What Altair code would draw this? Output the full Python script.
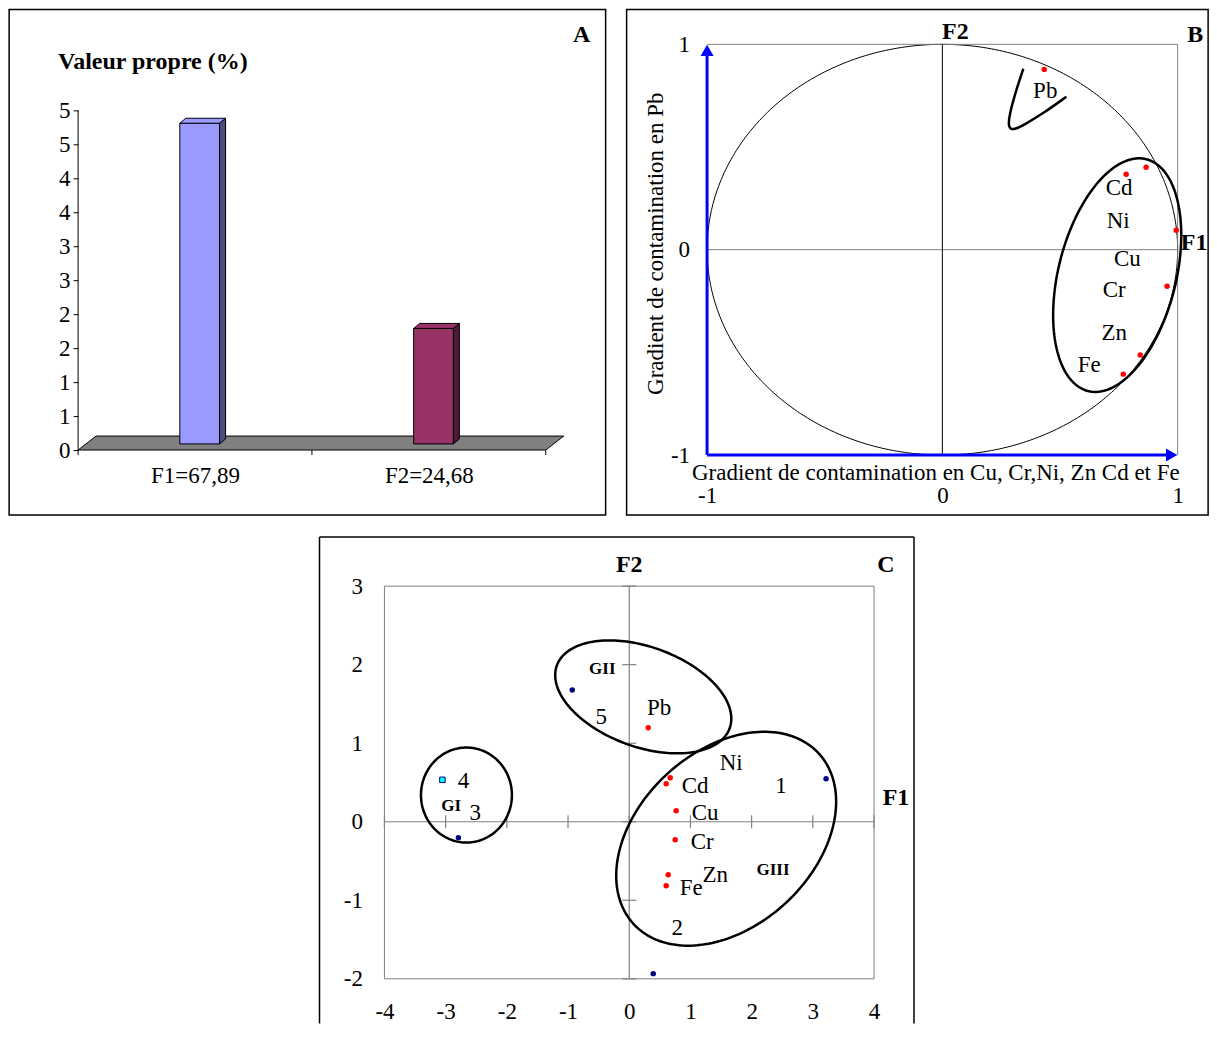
import math
import altair as alt
import pandas as pd

FONT = "Liberation Serif"
GRAY = "#808080"
NAVY = "#000080"
RED = "#FF0000"
FS = 23      # normal text size
FSB = 24     # bold panel letters / axis names

# ---------------- Panel A : eigenvalues ----------------
factor_labels = ["F1=67,89", "F2=24,68"]
eigenvalues = [4.75, 1.73]
front_colors = ["#9999FF", "#993366"]
side_colors = ["#4D4D80", "#4D1A33"]
a_ticks = [0, 0.5, 1, 1.5, 2, 2.5, 3, 3.5, 4, 4.5, 5]
a_title = "Valeur propre (%)"

# ---------------- Panel B : correlation circle ----------------
var_names = ["Pb", "Cd", "Ni", "Cu", "Cr", "Zn", "Fe"]
b_f1 = [0.433, 0.781, 0.866, 0.994, 0.955, 0.841, 0.769]
b_f2 = [0.878, 0.367, 0.401, 0.095, -0.178, -0.513, -0.606]
b_lbl_dx = [1, -7, -28, -49, -53, -26, -34]
b_lbl_dy = [22, 14, 54, 29, 4, -22, -9]
pb_curve_x = [0.344, 0.310, 0.284, 0.280, 0.297, 0.348, 0.433, 0.527]
pb_curve_y = [0.881, 0.764, 0.652, 0.599, 0.579, 0.608, 0.667, 0.745]
b_ell = dict(cx=0.743, cy=-0.124, a=0.508, b=0.250, rot=75.9)
b_xtitle = "Gradient de contamination en Cu, Cr,Ni, Zn Cd et Fe"
b_ytitle = "Gradient de contamination en Pb"

# ---------------- Panel C : biplot ----------------
c_var_f1 = [0.310, 0.604, 0.669, 0.767, 0.751, 0.637, 0.604]
c_var_f2 = [1.196, 0.483, 0.560, 0.140, -0.229, -0.674, -0.814]
c_var_dx = [11, 29, 61, 29, 27, 47, 25]
c_var_dy = [-20, 2, -15, 2, 2, 0, 2]
sites = ["1", "2", "3", "4", "5"]
site_f1 = [3.216, 0.392, -2.792, -3.053, -0.931]
site_f2 = [0.547, -1.934, -0.204, 0.534, 1.679]
site_dx = [-45, 24, 17, 21, 29]
site_dy = [7, -46, -25, 1, 27]
groups = ["GI", "GII", "GIII"]
group_x = [-2.91, -0.44, 2.35]
group_y = [0.20, 1.95, -0.62]
ell_cx = [-2.66, 0.229, 1.584]
ell_cy = [0.34, 1.590, -0.216]
ell_a = [0.743, 1.502, 2.057]
ell_b = [0.776, 0.816, 1.432]
ell_rot = [0, -20, 42.7]
c_xticks = [-4, -3, -2, -1, 0, 1, 2, 3, 4]
c_yticks = [-2, -1, 0, 1, 2, 3]

# ---------------- layout ----------------
A_W, A_H = 597, 506
A_XD, A_YD = [-0.295, 2.256], [-0.956, 6.485]
B_W, B_H = 582, 506
B_XD, B_YD = [-1.342, 1.1295], [-1.292, 1.170]
C_KX, C_KY = 61.25, 78.6
C_W, C_H = 612, 487
C_XD = [4.653 - C_W / C_KX, 4.653]
C_YD = [3.626 - C_H / C_KY, 3.626]
C_FRAME_LEFT = -5.061


def k(W, H, XD, YD):
    return W / (XD[1] - XD[0]), H / (YD[1] - YD[0])


kxA, kyA = k(A_W, A_H, A_XD, A_YD)
kxB, kyB = k(B_W, B_H, B_XD, B_YD)
kxC, kyC = k(C_W, C_H, C_XD, C_YD)


def sc(d):
    return alt.Scale(domain=d, nice=False, zero=False)


axis_common = dict(labelFont=FONT, labelFontSize=FS, labelColor="black", grid=False,
                   domain=False, labelFlush=False, labelOverlap=False)


def lbl_expr(labels, values):
    expr = "''"
    for v, l in zip(reversed(values), reversed(labels)):
        expr = f"datum.value == {v} ? '{l}' : ({expr})"
    return expr


AX = {
    "A": (alt.Axis(values=[0.5, 1.5], labelExpr=lbl_expr(factor_labels, [0.5, 1.5]),
                   ticks=False, offset=-65, labelPadding=14, title=None, **axis_common),
          alt.Axis(values=a_ticks, labelExpr="'' + round(datum.value)", ticks=True,
                   tickSize=5, tickColor="black", offset=-69, labelPadding=3, title=None,
                   **axis_common)),
    "B": (alt.Axis(values=[-1, 0, 1], labelExpr="'' + datum.value", ticks=False, offset=-60,
                   labelPadding=29, title=b_xtitle, titleFont=FONT, titleFontSize=FS,
                   titleFontWeight="normal", titleColor="black", titleX=309, titleY=17,
                   titleBaseline="middle", **axis_common),
          alt.Axis(values=[-1, 0, 1], labelExpr="'' + datum.value", ticks=False, offset=-81,
                   labelPadding=18, title=b_ytitle, titleFont=FONT, titleFontSize=FS,
                   titleFontWeight="normal", titleColor="black", titleY=234, titlePadding=3,
                   **axis_common)),
    "C": (alt.Axis(values=c_xticks, labelExpr="'' + datum.value", ticks=False,
                   offset=-(C_H - (3.626 + 2) * C_KY), labelPadding=22, title=None,
                   **axis_common),
          alt.Axis(values=c_yticks, labelExpr="'' + datum.value", ticks=False,
                   offset=-(C_W - 8.653 * C_KX), labelPadding=22, title=None, **axis_common)),
}
DOM = {"A": (A_XD, A_YD), "B": (B_XD, B_YD), "C": (C_XD, C_YD)}


def enc(p, **kw):
    XD, YD = DOM[p]
    xa, ya = AX[p]
    e = dict(x=alt.X("x:Q", scale=sc(XD), axis=xa),
             y=alt.Y("y:Q", scale=sc(YD), axis=ya))
    e.update(kw)
    return e


def ellipse_rows(name, cx, cy, a, b, rot, kx, ky, n=181):
    th = math.radians(rot)
    rows = []
    for i in range(n):
        t = 2 * math.pi * i / (n - 1)
        dxp = a * kx * math.cos(t) * math.cos(th) - b * kx * math.sin(t) * math.sin(th)
        dyp = a * kx * math.cos(t) * math.sin(th) + b * kx * math.sin(t) * math.cos(th)
        rows.append({"g": name, "i": i, "x": cx + dxp / kx, "y": cy + dyp / ky})
    return rows


def text_layer(df, p, size=FS, weight="normal", align="center"):
    return alt.Chart(df).mark_text(font=FONT, fontSize=size, fontWeight=weight,
                                   align=align, baseline="middle", color="black").encode(
        **enc(p, text="t:N"))


def rules(df, p, color, width):
    return alt.Chart(df).mark_rule(color=color, strokeWidth=width).encode(
        **enc(p, x2="x2:Q", y2="y2:Q"))


# ================= Panel A =================
BAR_X0, BAR_W, BAR_BASE, FRONT_SHIFT = 0.435, 0.17, 0.09, 0.06
bdx, bdy = 6 / kxA, 5 / kyA
fdx, fdy = 18 / kxA, 14 / kyA

floor = pd.DataFrame({"g": "floor", "x": [0, fdx, 2, 2 + fdx],
                      "y": [0, 0, 0, fdy], "y2": [0, fdy, fdy, fdy], "c": "#808080"})
faces, fronts = [], []
for i, v in enumerate(eigenvalues):
    x0 = i + BAR_X0
    x1 = x0 + BAR_W
    top = v + FRONT_SHIFT
    fronts.append({"x": x0, "x2": x1, "y": top, "y2": BAR_BASE, "c": front_colors[i]})
    faces += [{"g": f"s{i}", "x": x1, "y": BAR_BASE, "y2": top, "c": side_colors[i]},
              {"g": f"s{i}", "x": x1 + bdx, "y": BAR_BASE + bdy, "y2": top + bdy, "c": side_colors[i]}]
    faces += [{"g": f"t{i}", "x": x0, "y": top, "y2": top, "c": front_colors[i]},
              {"g": f"t{i}", "x": x0 + bdx, "y": top, "y2": top + bdy, "c": front_colors[i]},
              {"g": f"t{i}", "x": x1, "y": top, "y2": top + bdy, "c": front_colors[i]},
              {"g": f"t{i}", "x": x1 + bdx, "y": top + bdy, "y2": top + bdy, "c": front_colors[i]}]

a_xticks = rules(pd.DataFrame({"x": [0, 1, 2], "x2": [0, 1, 2], "y": 0, "y2": -5 / kyA}),
                 "A", "black", 1)
a_floor = alt.Chart(floor).mark_area(stroke="black", strokeWidth=1, opacity=1).encode(
    **enc("A", y2="y2:Q", detail="g:N", color=alt.Color("c:N", scale=None)))
a_front = alt.Chart(pd.DataFrame(fronts)).mark_rect(stroke="black", strokeWidth=1).encode(
    **enc("A", x2="x2:Q", y2="y2:Q", color=alt.Color("c:N", scale=None)))
a_faces = alt.Chart(pd.DataFrame(faces)).mark_area(stroke="black", strokeWidth=1, opacity=1).encode(
    **enc("A", y2="y2:Q", detail="g:N", color=alt.Color("c:N", scale=None)))
a_yline = rules(pd.DataFrame({"x": [0], "x2": [0], "y": [0], "y2": [5]}), "A", "black", 1)
a_title_t = text_layer(pd.DataFrame({"x": [-0.0855], "y": [5.706], "t": [a_title]}),
                       "A", size=FSB, weight="bold", align="left")
a_letter = text_layer(pd.DataFrame({"x": [2.154], "y": [6.103], "t": ["A"]}),
                      "A", size=FSB, weight="bold")

panelA = alt.layer(a_xticks, a_floor, a_front, a_faces, a_yline, a_title_t,
                   a_letter).properties(width=A_W, height=A_H)

# ================= Panel B =================
circle = pd.DataFrame({"i": list(range(361)),
                       "x": [math.cos(math.radians(t)) for t in range(361)],
                       "y": [math.sin(math.radians(t)) for t in range(361)]})
b_circle = alt.Chart(circle).mark_line(color="black", strokeWidth=1).encode(
    **enc("B", order="i:Q"))
b_gray = rules(pd.DataFrame({"x": [-1, 1, -1], "x2": [1, 1, 1],
                             "y": [1, -1, 0], "y2": [1, 1, 0]}), "B", GRAY, 1)
b_vert = rules(pd.DataFrame({"x": [0], "x2": [0], "y": [-1], "y2": [1]}), "B", "black", 1)
b_blue = rules(pd.DataFrame({"x": [-1, -1], "x2": [-1, 1 - 8 / kxB],
                             "y": [-1, -1], "y2": [1 - 8 / kyB, -1]}), "B", "#0000FF", 3)
b_arr_up = alt.Chart(pd.DataFrame({"x": [-1], "y": [1 - 6 / kyB]})).mark_point(
    shape="triangle-up", filled=True, color="#0000FF", size=170, opacity=1).encode(**enc("B"))
b_arr_rt = alt.Chart(pd.DataFrame({"x": [1 - 6 / kxB], "y": [-1]})).mark_point(
    shape="triangle-right", filled=True, color="#0000FF", size=170, opacity=1).encode(**enc("B"))
b_ell_df = pd.DataFrame(ellipse_rows("e", b_ell["cx"], b_ell["cy"], b_ell["a"], b_ell["b"],
                                     b_ell["rot"], kxB, kyB))
b_ellipse = alt.Chart(b_ell_df).mark_line(color="black", strokeWidth=2.5).encode(
    **enc("B", order="i:Q"))
b_pb = alt.Chart(pd.DataFrame({"i": list(range(len(pb_curve_x))), "x": pb_curve_x,
                               "y": pb_curve_y})).mark_line(
    color="black", strokeWidth=2.5, interpolate="basis").encode(**enc("B", order="i:Q"))
b_pts = alt.Chart(pd.DataFrame({"x": b_f1, "y": b_f2})).mark_circle(
    color=RED, size=30, opacity=1).encode(**enc("B"))
b_lbl = text_layer(pd.DataFrame({
    "x": [x + dx / kxB for x, dx in zip(b_f1, b_lbl_dx)],
    "y": [y - dy / kyB for y, dy in zip(b_f2, b_lbl_dy)],
    "t": var_names}), "B")
b_bold = text_layer(pd.DataFrame({"x": [0.055, 1.075, 1.07], "y": [1.058, 1.044, 0.032],
                                  "t": ["F2", "B", "F1"]}), "B", size=FSB, weight="bold")

panelB = alt.layer(b_circle, b_gray, b_vert, b_blue, b_arr_up, b_arr_rt, b_ellipse,
                   b_pb, b_pts, b_lbl, b_bold).properties(width=B_W, height=B_H)

# ================= Panel C =================
c_frame = rules(pd.DataFrame({"x": [C_FRAME_LEFT, C_XD[1], C_FRAME_LEFT],
                              "x2": [C_FRAME_LEFT, C_XD[1], C_XD[1]],
                              "y": [C_YD[0], C_YD[0], C_YD[1]],
                              "y2": [C_YD[1], C_YD[1], C_YD[1]]}), "C", "black", 1.5)
c_box = alt.Chart(pd.DataFrame({"x": [-4], "x2": [4], "y": [-2], "y2": [3]})).mark_rect(
    fillOpacity=0, stroke=GRAY, strokeWidth=1).encode(**enc("C", x2="x2:Q", y2="y2:Q"))
c_cross = rules(pd.DataFrame({"x": [0, -4], "x2": [0, 4], "y": [-2, 0], "y2": [3, 0]}),
                "C", GRAY, 1.2)
c_tx = alt.Chart(pd.DataFrame({"x": c_xticks, "y": 0})).mark_tick(
    orient="vertical", size=13, thickness=1.2, color=GRAY, opacity=1).encode(**enc("C"))
c_ty = alt.Chart(pd.DataFrame({"x": 0, "y": c_yticks})).mark_tick(
    orient="horizontal", size=14, thickness=1.2, color=GRAY, opacity=1).encode(**enc("C"))
ell_rows = []
for gname, cx, cy, a, b, r in zip(groups, ell_cx, ell_cy, ell_a, ell_b, ell_rot):
    ell_rows += ellipse_rows(gname, cx, cy, a, b, r, kxC, kyC)
c_ell = alt.Chart(pd.DataFrame(ell_rows)).mark_line(color="black", strokeWidth=2.5).encode(
    **enc("C", detail="g:N", order="i:Q"))
site_df = pd.DataFrame({"x": site_f1, "y": site_f2, "s": sites})
c_sites = alt.Chart(site_df[site_df.s != "4"]).mark_circle(color=NAVY, size=30, opacity=1).encode(
    **enc("C"))
c_site4 = alt.Chart(site_df[site_df.s == "4"]).mark_point(
    shape="square", filled=True, fill="#00FFFF", stroke=NAVY, strokeWidth=1, size=30,
    opacity=1).encode(**enc("C"))
c_vars = alt.Chart(pd.DataFrame({"x": c_var_f1, "y": c_var_f2})).mark_circle(
    color=RED, size=30, opacity=1).encode(**enc("C"))
c_site_lbl = text_layer(pd.DataFrame({
    "x": [x + dx / kxC for x, dx in zip(site_f1, site_dx)],
    "y": [y - dy / kyC for y, dy in zip(site_f2, site_dy)], "t": sites}), "C")
c_var_lbl = text_layer(pd.DataFrame({
    "x": [x + dx / kxC for x, dx in zip(c_var_f1, c_var_dx)],
    "y": [y - dy / kyC for y, dy in zip(c_var_f2, c_var_dy)], "t": var_names}), "C")
c_grp = text_layer(pd.DataFrame({"x": group_x, "y": group_y, "t": groups}), "C",
                   size=17, weight="bold")
c_bold = text_layer(pd.DataFrame({"x": [0, 4.196, 4.359], "y": [3.27, 3.27, 0.305],
                                  "t": ["F2", "C", "F1"]}), "C", size=FSB, weight="bold")

panelC = alt.layer(c_frame, c_box, c_cross, c_tx, c_ty, c_ell, c_sites, c_site4, c_vars,
                   c_site_lbl, c_var_lbl, c_grp, c_bold).properties(
    width=C_W, height=C_H, view=alt.ViewBackground(stroke="transparent"))

top = alt.hconcat(panelA, panelB, spacing=19)
chart = alt.vconcat(top, panelC, spacing=19, center=True, padding=0).configure_view(
    stroke="black", strokeWidth=1.5)

chart.save("out.html", embed_options={"renderer": "svg", "actions": False})
